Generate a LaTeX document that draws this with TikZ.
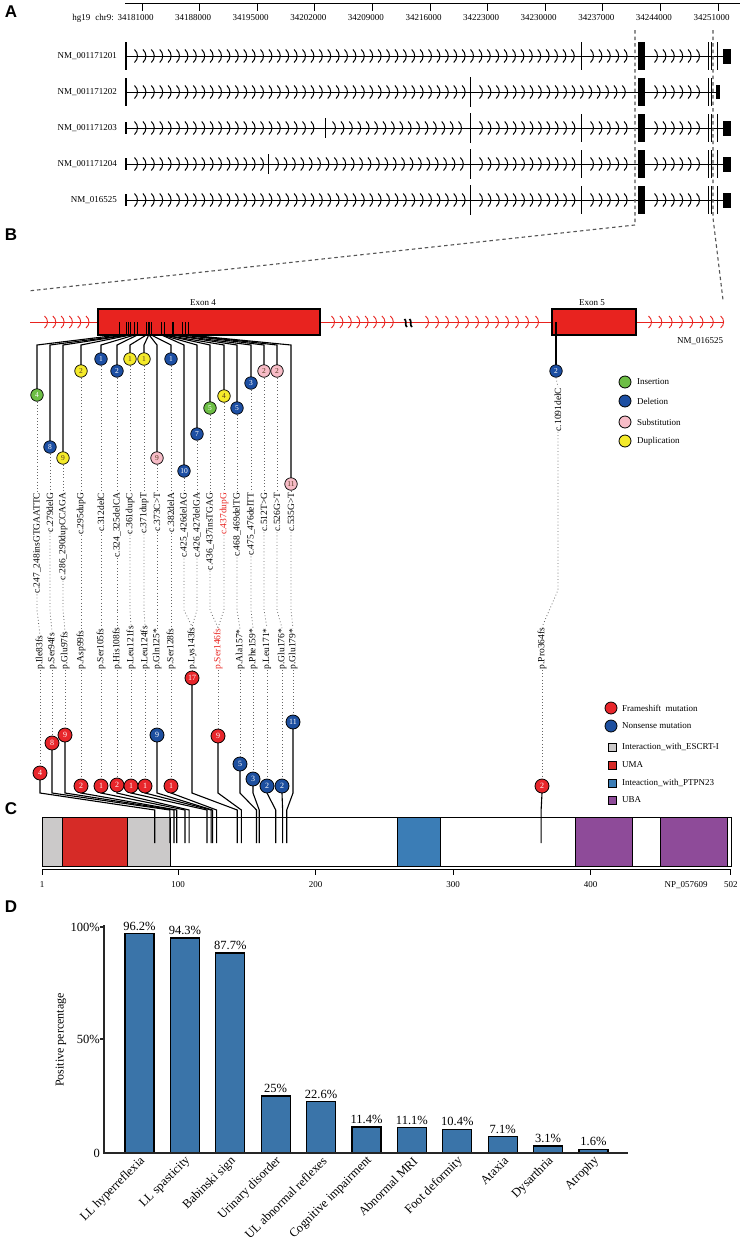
\documentclass[tikz,border=0pt]{standalone}
\usepackage{fontspec}
\setmainfont{Liberation Serif}
\setsansfont{Liberation Sans}
\usetikzlibrary{calc}
\definecolor{exred}{HTML}{E8231F}
\definecolor{insgreen}{HTML}{6DBE45}
\definecolor{delblue}{HTML}{1D4FA3}
\definecolor{subpink}{HTML}{F7BCC7}
\definecolor{dupyellow}{HTML}{F4EA2A}
\definecolor{fsred}{HTML}{E8262B}
\definecolor{nsblue}{HTML}{1D4F9F}
\definecolor{escrt}{HTML}{CBC9C9}
\definecolor{uma}{HTML}{D62B27}
\definecolor{ptpn}{HTML}{3B7DB6}
\definecolor{uba}{HTML}{8E4B99}
\definecolor{barblue}{HTML}{3A74A9}
\definecolor{dashgray}{HTML}{555555}
\definecolor{numdark}{HTML}{5A3A20}
\tikzset{
  panellab/.style={font=\sffamily\bfseries\fontsize{17}{17}\selectfont, inner sep=0pt},
  atext/.style={font=\fontsize{9}{10}\selectfont, inner sep=0pt},
  clab/.style={font=\fontsize{9.5}{10}\selectfont, rotate=90, anchor=east, inner sep=0.5pt},
  plab/.style={font=\fontsize{9.5}{10}\selectfont, rotate=90, anchor=west, inner sep=0.5pt},
  dotline/.style={draw=black!60, line width=0.8pt, dash pattern=on 0.8pt off 2.4pt},
  guide/.style={draw=dashgray, line width=1.1pt, dash pattern=on 3.5pt off 3pt},
  topdot/.style={circle, draw=black, line width=0.7pt, minimum size=12.5pt, inner sep=0pt, font=\fontsize{7.5}{8}\selectfont},
  botdot/.style={circle, draw=black, line width=0.8pt, minimum size=14pt, inner sep=0pt, font=\fontsize{8}{8}\selectfont, text=white},
  legdot/.style={circle, draw=black, line width=0.8pt, minimum size=12pt, inner sep=0pt},
  legsq/.style={draw=black, line width=0.8pt, minimum size=8pt, inner sep=0pt},
  legtext/.style={font=\fontsize{9}{10}\selectfont, anchor=west, inner sep=0pt},
  stem/.style={draw=black, line width=1.1pt},
  chev/.style={draw=black, line width=1pt},
  rchev/.style={draw=exred, line width=0.9pt},
  dtext/.style={font=\fontsize{12.5}{13}\selectfont, inner sep=0pt},
  axisline/.style={draw=black!85, line width=1.4pt},
}
\newcommand{\chevA}[2]{\draw[chev] (#1-2.5,#2-6.5) .. controls (#1+1.5,#2-3) and (#1+1.5,#2+3) .. (#1-2.5,#2+6.5);}
\newcommand{\chevR}[2]{\draw[rchev] (#1-2.5,#2-6) .. controls (#1+1.5,#2-3) and (#1+1.5,#2+3) .. (#1-2.5,#2+6);}
\newcommand{\chevsegs}[2]{%
  \foreach \s/\e in {#2}{%
    \pgfmathtruncatemacro\nn{(\e-\s)/8.4}%
    \foreach \k in {0,...,\nn}{\pgfmathsetmacro\cxx{\s+8.4*\k}\chevA{\cxx}{#1}}}}
\newcommand{\redsegs}[2]{%
  \foreach \s/\e/\st in {#2}{%
    \pgfmathtruncatemacro\nn{(\e-\s)/\st}%
    \foreach \k in {0,...,\nn}{\pgfmathsetmacro\cxx{\s+\st*\k}\chevR{\cxx}{#1}}}}
\newcommand{\rowbase}[2]{% #1 y, #2 first exon half height
  \draw[line width=1pt] (126,#1) -- (723,#1);
  \draw[line width=2.2pt] (126,#1-#2) -- (126,#1+#2);
  \fill (638,#1-14) rectangle (645,#1+14);
  \draw[line width=1pt] (708,#1-14) -- (708,#1+14) (711,#1-14) -- (711,#1+14);}
\newcommand{\rowend}[1]{%
  \draw[line width=1pt] (717,#1-14) -- (717,#1+14);
  \fill (723,#1-7.5) rectangle (731,#1+7.5);}
\begin{document}
\begin{tikzpicture}[x=1pt,y=-1pt]
\useasboundingbox[fill=white] (0,0) rectangle (740,1245);

% panel letters
\node[panellab] (pA) at (11,12) {A};
\node[panellab] (pB) at (11,235) {B};
\node[panellab] (pC) at (11,809) {C};
\node[panellab] (pD) at (11,907) {D};

% ================= Panel A =================
\draw[line width=1pt] (125,3) -- (740,3);
\foreach \k/\lb in {0/34181000,1/34188000,2/34195000,3/34202000,4/34209000,5/34216000,6/34223000,7/34230000,8/34237000,9/34244000,10/34251000}{
  \pgfmathsetmacro\tx{142+57.6*\k}
  \draw[line width=1pt] (\tx,3) -- (\tx,11);
  \node[atext] (tick\k) at (\tx-6.5,18) {\lb};
}
\node[atext,anchor=east] (hg) at (114,18) {hg19\hspace{5pt}chr9:};

% row 1
\rowbase{56}{14}\rowend{56}
\draw[line width=1pt] (581,42) -- (581,70);
\chevsegs{56}{137/575, 593/632, 657/705}
\node[atext,anchor=east] (r1) at (117,56) {NM\_001171201};
% row 2
\draw[line width=1pt] (126,92) -- (719,92);
\draw[line width=2.2pt] (126,78) -- (126,106);
\fill (638,78) rectangle (645,106);
\draw[line width=1pt] (708,78) -- (708,106) (711,78) -- (711,106);
\fill (716,85) rectangle (720,99);
\draw[line width=0.6pt] (470,77) -- (470,107);
\chevsegs{92}{137/467, 482/632, 657/705}
\node[atext,anchor=east] (r2) at (117,92) {NM\_001171202};
% row 3
\rowbase{128}{6}\rowend{128}
\draw[line width=0.8pt] (325,118) -- (325,138);
\draw[line width=0.6pt] (470,113) -- (470,143);
\draw[line width=1pt] (581,114) -- (581,142);
\chevsegs{128}{137/321, 335/467, 482/575, 593/632, 657/705}
\node[atext,anchor=east] (r3) at (117,128) {NM\_001171203};
% row 4
\rowbase{164}{6}\rowend{164}
\draw[line width=0.8pt] (268,154) -- (268,174);
\draw[line width=0.6pt] (470,149) -- (470,179);
\draw[line width=1pt] (581,150) -- (581,178);
\chevsegs{164}{137/264, 278/467, 482/575, 593/632, 657/705}
\node[atext,anchor=east] (r4) at (117,164) {NM\_001171204};
% row 5
\rowbase{200}{6}\rowend{200}
\draw[line width=0.6pt] (470,185) -- (470,215);
\draw[line width=1pt] (581,186) -- (581,214);
\chevsegs{200}{137/467, 482/575, 593/632, 657/705}
\node[atext,anchor=east] (r5) at (117,200) {NM\_016525};

% zoom guides
\draw[guide] (635,30) -- (635,225) -- (28,291);
\draw[guide] (713,30) -- (713,218) -- (723,300);

% ================= Panel B =================
\draw[draw=exred, line width=1pt] (30,322) -- (724,322);
\redsegs{322}{47/89/8.3, 334/398/8.4, 428/547/10, 651/724/10.3}
% break symbol
\draw[line width=1.7pt] (404.5,319) .. controls (407,320) and (404.5,326) .. (407,327);
\draw[line width=1.7pt] (409.5,319) .. controls (412,320) and (409.5,326) .. (412,327);
% exons
\draw[fill=exred, line width=1.2pt] (98,309) rectangle (320,335);
\draw[fill=exred, line width=1.2pt] (552,309) rectangle (636,335);
\node[atext] (ex4) at (203,303) {Exon 4};
\node[atext] (ex5) at (592,303) {Exon 5};
\node[atext] (nmb) at (700,341) {NM\_016525};
\foreach \tk in {119.0,126.7,128.3,130.5,134.6,137.4,146.3,148.7,149.2,151.3,161.6,161.9,164.3,164.5,172.0,173.6,182.5,185.8,188.0}{
  \draw[line width=0.9pt] (\tk,322) -- (\tk,334);
}

% ================= Panel C bar (drawn first) =================
\draw[line width=1pt, fill=white] (42,817) rectangle (731,866);
\draw[fill=escrt, line width=0.8pt] (42,817) rectangle (62.8,866);
\draw[fill=uma, line width=0.8pt] (62.8,817) rectangle (127.4,866);
\draw[fill=escrt, line width=0.8pt] (127.4,817) rectangle (170.1,866);
\draw[fill=ptpn, line width=0.8pt] (397.4,817) rectangle (440.1,866);
\draw[fill=uba, line width=0.8pt] (575.1,817) rectangle (632.7,866);
\draw[fill=uba, line width=0.8pt] (660.5,817) rectangle (727,866);
\draw[line width=1pt] (42,817) rectangle (731,866);
\draw[line width=1pt] (42,869) -- (731,869);
\foreach \r/\t in {1/1,100/100,200/200,300/300,400/400,502/502}{
  \pgfmathsetmacro\rx{42+(\r-1)*1.375}
  \draw[line width=1pt] (\rx,869) -- (\rx,875);
  \node[atext] (ax\r) at (\rx,885) {\t};
}
\node[atext] (npid) at (686,885) {NP\_057609};

% ================= Panel B lower: p labels + lollipops =================
\foreach \j/\px/\txt/\txc/\fc/\cy/\num/\res in {
  1/40/{p.Ile83fs}/black/fsred/773/4/83,
  2/52/{p.Ser94fs}/black/fsred/743/8/94,
  3/65/{p.Glu97fs}/black/fsred/735/9/97,
  4/81/{p.Asp99fs}/black/fsred/786/2/99,
  5/101/{p.Ser105fs}/black/fsred/786/1/105,
  6/117/{p.His108fs}/black/fsred/785/2/108,
  7/131/{p.Leu121fs}/black/fsred/786/1/121,
  8/145/{p.Leu124fs}/black/fsred/786/1/124,
  9/157/{p.Gln125*}/black/nsblue/735/9/125,
  10/171/{p.Ser128fs}/black/fsred/786/1/128,
  11/192/{p.Lys143fs}/black/fsred/678/17/143,
  12/218/{p.Ser146fs}/exred/fsred/736/9/146,
  13/240/{p.Ala157*}/black/nsblue/764/5/157,
  14/253/{p.Phe159*}/black/nsblue/779/3/159,
  15/267/{p.Leu171*}/black/nsblue/786/2/171,
  16/282/{p.Glu176*}/black/nsblue/786/2/176,
  17/293/{p.Glu179*}/black/nsblue/722/11/179,
  18/542/{p.Pro364fs}/black/fsred/786/2/364}{
  \node[plab, text=\txc] (p\j) at (\px,670) {\txt};
  \pgfmathsetmacro\rx{42+(\res-1)*1.375}
  \draw[stem] (\px,\cy) -- (\px,793) -- (\rx,810) -- (\rx,843);
  \node[botdot, fill=\fc] (b\j) at (\px,\cy) {\num};
  \draw[dotline] (p\j.west) -- (b\j.north);
}

% ================= Panel B upper: c labels =================
\foreach \i/\j/\cx/\cy/\fc/\tc/\num/\tk/\txt/\txc in {
  1/1/37/395/insgreen/white/4/119.0/{c.247\_248insGTGAATTC}/black,
  2/2/50/447/delblue/white/8/126.7/{c.279delG}/black,
  3/3/63/458/dupyellow/numdark/9/128.3/{c.286\_290dupCCAGA}/black,
  4/4/81/371/dupyellow/numdark/2/130.5/{c.295dupG}/black,
  5/5/101/359/delblue/white/1/134.6/{c.312delC}/black,
  6/6/117/371/delblue/white/2/137.4/{c.324\_325delCA}/black,
  7/7/130/359/dupyellow/numdark/1/146.3/{c.361dupC}/black,
  8/8/144/359/dupyellow/numdark/1/148.7/{c.371dupT}/black,
  9/9/157/458/subpink/numdark/9/149.2/{c.373C>T}/black,
  10/10/171/359/delblue/white/1/151.3/{c.382delA}/black,
  11/11/184/471/delblue/white/10/161.6/{c.425\_426delAG}/black,
  12/11/197/434/delblue/white/7/161.9/{c.426\_427delGA}/black,
  13/12/210/408/insgreen/white/5/164.3/{c.436\_437insTGAG}/black,
  14/12/224/396/dupyellow/numdark/4/164.5/{c.437dupG}/exred,
  15/13/237/408/delblue/white/5/172.0/{c.468\_469delTG}/black,
  16/14/251/383/delblue/white/3/173.6/{c.475\_476delTT}/black,
  17/15/264/371/subpink/numdark/2/182.5/{c.512T>G}/black,
  18/16/277/371/subpink/numdark/2/185.8/{c.526G>T}/black,
  19/17/291/484/subpink/numdark/11/188.0/{c.535G>T}/black}{
  \draw[stem] (\tk,335) -- (\cx,345) -- (\cx,\cy);
  \node[topdot, fill=\fc, text=\tc] (m\i) at (\cx,\cy) {\num};
  \node[clab, text=\txc] (c\i) at (\cx,492) {\txt};
  \draw[dotline] (m\i.south) -- (c\i.east);
  \draw[dotline] (c\i.west) -- (\cx,610) -- (p\j.east);
}
% exon 5 mutation
\draw[stem] (556,322) -- (556,371);
\node[topdot, fill=delblue, text=white] (m20) at (556,371) {2};
\node[clab] (c20) at (558,387) {c.1091delC};
\draw[dotline] (m20.south) -- (c20.east);
\draw[dotline] (c20.west) -- (558,590) -- (p18.east);

% legends
\node[legdot, fill=insgreen] (lg1) at (625,382) {};
\node[legtext] (lt1) at (637,382) {Insertion};
\node[legdot, fill=delblue] (lg2) at (625,401) {};
\node[legtext] (lt2) at (637,401) {Deletion};
\node[legdot, fill=subpink] (lg3) at (625,422) {};
\node[legtext] (lt3) at (637,422) {Substitution};
\node[legdot, fill=dupyellow] (lg4) at (625,441) {};
\node[legtext] (lt4) at (637,441) {Duplication};

\node[legdot, fill=fsred] (lg5) at (611,708) {};
\node[legtext] (lt5) at (622,708) {Frameshift\ \ mutation};
\node[legdot, fill=nsblue] (lg6) at (611,726) {};
\node[legtext] (lt6) at (622,726) {Nonsense mutation};
\node[legsq, fill=escrt] (lg7) at (612,747) {};
\node[legtext] (lt7) at (622,747) {Interaction\_with\_ESCRT-I};
\node[legsq, fill=uma] (lg8) at (612,765) {};
\node[legtext] (lt8) at (622,765) {UMA};
\node[legsq, fill=ptpn] (lg9) at (612,783) {};
\node[legtext] (lt9) at (622,783) {Inteaction\_with\_PTPN23};
\node[legsq, fill=uba] (lg10) at (612,800) {};
\node[legtext] (lt10) at (622,800) {UBA};

% ================= Panel D =================
\foreach \k/\p/\lab in {0/96.2/LL hyperreflexia, 1/94.3/LL spasticity, 2/87.7/Babinski sign,
  3/25/Urinary disorder, 4/22.6/UL abnormal reflexes, 5/11.4/Cognitive impairment,
  6/11.1/Abnormal MRI, 7/10.4/Foot deformity, 8/7.1/Ataxia, 9/3.1/Dysarthria, 10/1.6/Atrophy}{
  \pgfmathsetmacro\bx{125+45.4*\k}
  \pgfmathsetmacro\bt{1153-2.28*\p}
  \draw[fill=barblue, line width=1.3pt] (\bx,\bt) rectangle (\bx+29,1153);
  \node[dtext, anchor=south] (v\k) at (\bx+14.5,\bt-3) {\p\%};
  \node[dtext, rotate=45, anchor=east] (cat\k) at (\bx+18,1159) {\lab};
}
\draw[axisline] (104,925) -- (104,1153) -- (628,1153);
\draw[axisline] (100,927) -- (104,927) (100,1039) -- (104,1039);
\node[dtext, anchor=east] (y100) at (100,927) {100\%};
\node[dtext, anchor=east] (y50) at (100,1039) {50\%};
\node[dtext, anchor=east] (y0) at (100,1153) {0};
\node[font=\fontsize{12}{12}\selectfont, rotate=90, inner sep=0pt] (ytitle) at (61,1040) {Positive percentage};
\end{tikzpicture}
\end{document}
